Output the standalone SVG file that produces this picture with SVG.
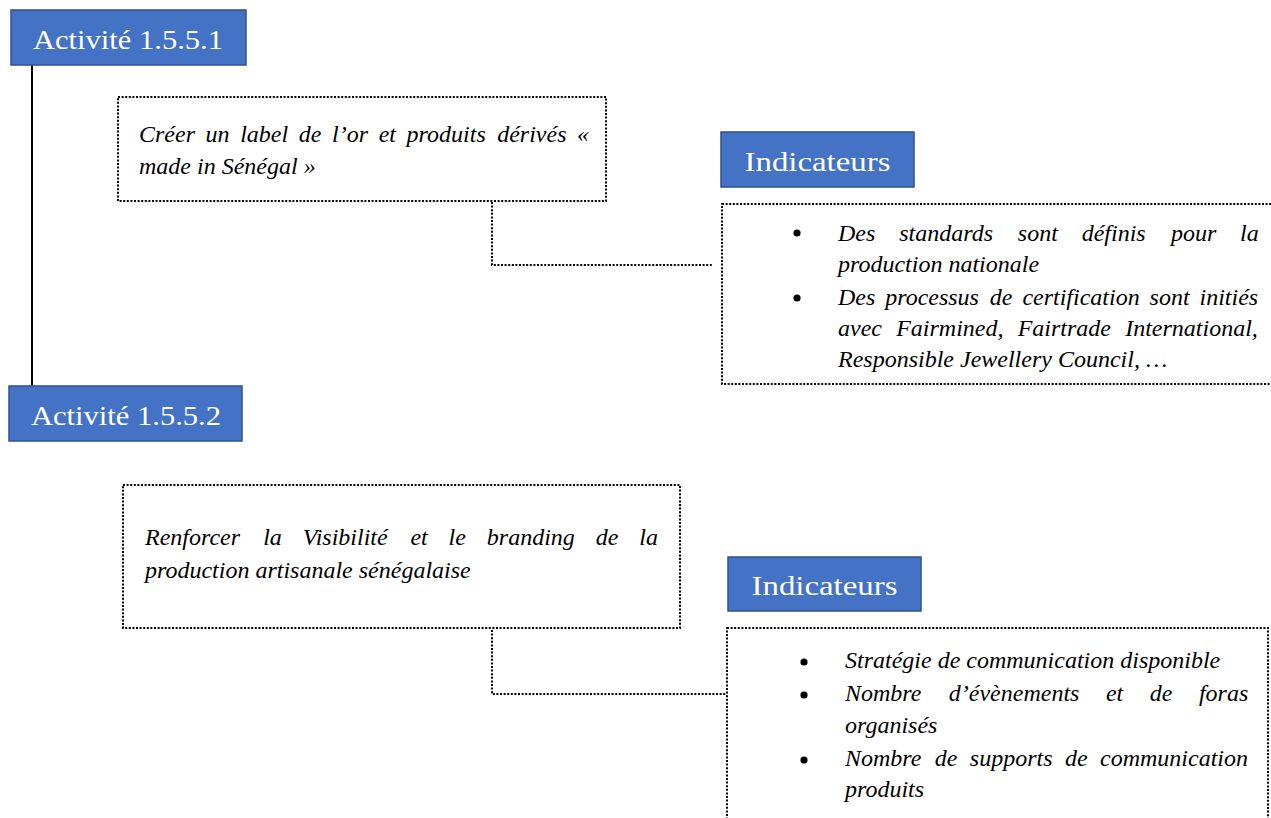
<svg xmlns="http://www.w3.org/2000/svg" width="1271" height="818" viewBox="0 0 1271 818">
<style>
.hdr{fill:#4472C4;stroke:#2F528F;stroke-width:1.5}
.hdrt{font-family:"Liberation Serif",serif;font-size:28px;fill:#ffffff}
.dot{fill:none;stroke:#000;stroke-width:2;stroke-dasharray:2 1.6}
.it{font-family:"Liberation Serif",serif;font-style:italic;font-size:24px;fill:#000}
.bul{fill:#000}
</style>
<rect width="1271" height="818" fill="#ffffff"/>
<g id="connectors">
<line x1="32" y1="65" x2="32" y2="386" stroke="#000" stroke-width="2"/>
<polyline class="dot" points="492,202 492,265 712,265"/>
<polyline class="dot" points="492,630 492,694 727,694"/>
</g>
<g id="act1">
<rect class="hdr" x="11" y="10" width="235" height="55"/>
<text class="hdrt" x="33" y="49" textLength="190" lengthAdjust="spacingAndGlyphs">Activité 1.5.5.1</text>
</g>
<g id="act2">
<rect class="hdr" x="9" y="386" width="233" height="55"/>
<text class="hdrt" x="31" y="425" textLength="190" lengthAdjust="spacingAndGlyphs">Activité 1.5.5.2</text>
</g>
<g id="desc1">
<rect class="dot" x="118" y="97" width="488" height="104"/>
<text class="it" transform="translate(139,142)"><tspan x="0">Créer</tspan><tspan x="66.6">un</tspan><tspan x="101.2">label</tspan><tspan x="159.8">de</tspan><tspan x="193.1">l’or</tspan><tspan x="239.7">et</tspan><tspan x="267.6">produits</tspan><tspan x="358.2">dérivés</tspan><tspan x="438.1">«</tspan></text>
<text class="it" x="139" y="174">made in Sénégal »</text>
</g>
<g id="ind1">
<rect class="hdr" x="721" y="132" width="193" height="55"/>
<text class="hdrt" x="817.5" y="171" text-anchor="middle" textLength="146" lengthAdjust="spacingAndGlyphs">Indicateurs</text>
</g>
<g id="indbody1">
<rect class="dot" x="722" y="204" width="560" height="180"/>
<circle class="bul" cx="797" cy="233" r="3.6"/>
<circle class="bul" cx="797" cy="298" r="3.6"/>
<text class="it" transform="translate(838,241)"><tspan x="0">Des</tspan><tspan x="61.2">standards</tspan><tspan x="179.8">sont</tspan><tspan x="243.7">définis</tspan><tspan x="332.9">pour</tspan><tspan x="402.1">la</tspan></text>
<text class="it" x="838" y="272">production nationale</text>
<text class="it" transform="translate(838,305)"><tspan x="0">Des</tspan><tspan x="47.2">processus</tspan><tspan x="151.8">de</tspan><tspan x="184.4">certification</tspan><tspan x="311.6">sont</tspan><tspan x="361.5">initiés</tspan></text>
<text class="it" transform="translate(838,336)"><tspan x="0">avec</tspan><tspan x="58.2">Fairmined,</tspan><tspan x="179.7">Fairtrade</tspan><tspan x="287.2">International,</tspan></text>
<text class="it" x="838" y="367">Responsible Jewellery Council, …</text>
</g>
<g id="desc2">
<rect class="dot" x="123" y="485" width="557" height="143"/>
<text class="it" transform="translate(145,545)"><tspan x="0">Renforcer</tspan><tspan x="118.2">la</tspan><tspan x="157.8">Visibilité</tspan><tspan x="265.4">et</tspan><tspan x="303.6">le</tspan><tspan x="341.8">branding</tspan><tspan x="450.7">de</tspan><tspan x="494.3">la</tspan></text>
<text class="it" x="145" y="578">production artisanale sénégalaise</text>
</g>
<g id="ind2">
<rect class="hdr" x="728" y="557" width="193" height="54"/>
<text class="hdrt" x="824.5" y="595" text-anchor="middle" textLength="146" lengthAdjust="spacingAndGlyphs">Indicateurs</text>
</g>
<g id="indbody2">
<rect class="dot" x="727" y="628" width="541" height="210"/>
<circle class="bul" cx="804" cy="662" r="3.6"/>
<circle class="bul" cx="804" cy="695" r="3.6"/>
<circle class="bul" cx="804" cy="760" r="3.6"/>
<text class="it" x="845" y="668">Stratégie de communication disponible</text>
<text class="it" transform="translate(845,701)"><tspan x="0">Nombre</tspan><tspan x="103.8">d’évènements</tspan><tspan x="260.9">et</tspan><tspan x="304.7">de</tspan><tspan x="353.9">foras</tspan></text>
<text class="it" x="845" y="733">organisés</text>
<text class="it" transform="translate(845,766)"><tspan x="0">Nombre</tspan><tspan x="89.7">de</tspan><tspan x="124.8">supports</tspan><tspan x="219.9">de</tspan><tspan x="255">communication</tspan></text>
<text class="it" x="845" y="797">produits</text>
</g>
</svg>
